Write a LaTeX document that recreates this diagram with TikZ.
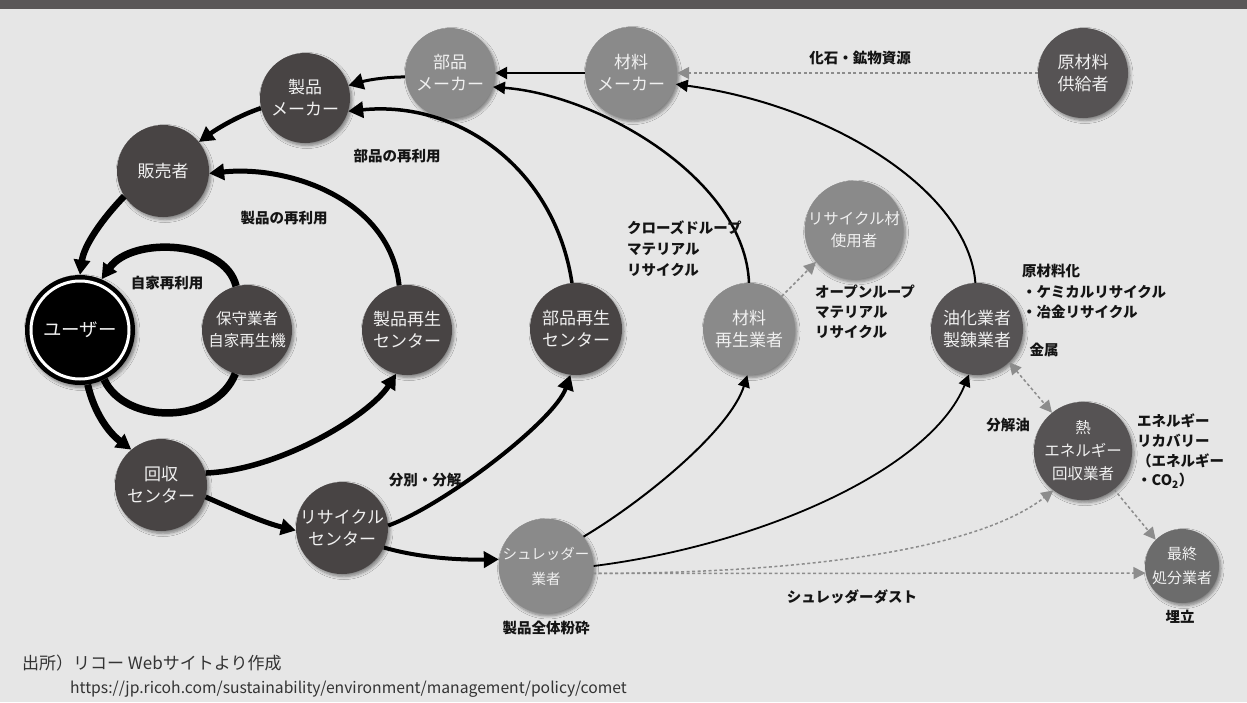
\documentclass[tikz,border=0pt]{standalone}
\usepackage{fontspec}
\setmainfont{Noto Sans CJK JP}
\usetikzlibrary{arrows.meta,shadows.blur}
\definecolor{bg}{RGB}{230,230,230}
\definecolor{bar}{RGB}{90,87,88}
\definecolor{dk}{RGB}{72,68,68}
\definecolor{dkb}{RGB}{86,83,84}
\definecolor{md}{RGB}{108,108,108}
\definecolor{lt}{RGB}{138,138,138}
\definecolor{dotc}{RGB}{140,140,140}
\definecolor{lbl}{RGB}{20,20,20}
\begin{document}
\begin{tikzpicture}[x=1pt,y=-1pt,
  nd/.style={circle, inner sep=0pt, minimum size=90pt, text=white!94!black, align=center,
    font=\fontsize{17}{22}\selectfont,
    blur shadow={shadow xshift=2pt, shadow yshift=-2.5pt, shadow blur radius=3pt, shadow blur steps=6, shadow opacity=45}},
  lab/.style={font=\bfseries\fontsize{14.5}{20}\selectfont, text=lbl, inner sep=0pt},
  arr/.style={-{Triangle[length=15pt,width=16pt]}, line width=#1, draw=black},
  tarr/.style={-{Triangle[length=12pt,width=12pt]}, line width=#1, draw=black},
  dotl/.style={draw=dotc, line width=1.5pt, dash pattern=on 3pt off 2.5pt},
  darr/.style={dotl, -{Triangle[length=12pt,width=12pt]}},
  ddarr/.style={dotl, {Triangle[length=12pt,width=12pt]}-{Triangle[length=12pt,width=12pt]}},
]
\fill[bg] (0,0) rectangle (1247,702);
\fill[bar] (0,0) rectangle (1247,9);
\useasboundingbox (0,0) rectangle (1247,702);

% nodes
\node[nd, fill=lt] (pm) at (450,73) {部品\\メーカー};
\node[nd, fill=lt, minimum size=92pt] (mm) at (631,73) {材料\\メーカー};
\node[nd, fill=dkb] (rs) at (1083,73) {原材料\\供給者};
\node[nd, fill=dk] (sm) at (305,98) {製品\\メーカー};
\node[nd, fill=dk, minimum size=92pt] (hb) at (163,171) {販売者};
\node[nd, fill=black, minimum size=110pt, font=\fontsize{18.5}{22}\selectfont] (user) at (80,330) {ユーザー};
\draw[white, line width=3pt] (user.center) circle (49);
\node[nd, fill=dk, font=\fontsize{15.5}{22}\selectfont] (hs) at (247,330) {保守業者\\自家再生機};
\node[nd, fill=dk] (sr) at (407,330) {製品再生\\センター};
\node[nd, fill=dk, minimum size=92pt] (pr) at (576,329) {部品再生\\センター};
\node[nd, fill=lt, minimum size=92pt] (mr) at (749,329) {材料\\再生業者};
\node[nd, fill=lt, font=\fontsize{15.5}{22}\selectfont] (ru) at (854,230) {リサイクル材\\使用者};
\node[nd, fill=dkb, minimum size=92pt] (yk) at (977,329) {油化業者\\製錬業者};
\node[nd, fill=dkb, font=\fontsize{15.5}{23}\selectfont] (ne) at (1083,451) {熱\\エネルギー\\回収業者};
\node[nd, fill=md, minimum size=74pt, font=\fontsize{15}{24}\selectfont] (sf) at (1182,566) {最終\\処分業者};
\node[nd, fill=dk, minimum size=92pt] (kc) at (161,485) {回収\\センター};
\node[nd, fill=dk, minimum size=92pt] (rc) at (342,528) {リサイクル\\センター};
\node[nd, fill=lt, font=\fontsize{14.5}{25}\selectfont] (sh) at (546,566) {シュレッダー\\業者};

% solid connectors
\draw[tarr=2.5pt] (mm.180) -- (pm.0);
\draw[arr=3pt] (pm.185) .. controls (385,77) and (368,80) .. (sm.16);
\draw[arr=4.5pt] (sm.193) .. controls (240,115) and (218,128) .. (hb.39);
\draw[arr=6.5pt] (hb.213) .. controls (103,218) and (84,245) .. (user.90);
\draw[arr=7.5pt] (hs.104) .. controls (225,240) and (132,236) .. (user.67);
\draw[line width=7.5pt] (user.-64) .. controls (125,425) and (215,425) .. (hs.255);
\draw[arr=7pt] (user.-82) .. controls (94,412) and (108,432) .. (kc.130);
\draw[arr=5.5pt] (kc.15) .. controls (280,470) and (370,415) .. (sr.256);
\draw[arr=5pt] (sr.100) .. controls (390,200) and (290,165) .. (hb.357);
\draw[arr=5pt] (kc.-15) .. controls (240,512) and (265,523) .. (rc.183);
\draw[arr=4pt] (rc.-25) .. controls (420,558) and (460,560) .. (sh.172);
\draw[arr=4pt] (rc.3) .. controls (445,505) and (555,420) .. (pr.263);
\draw[arr=3.5pt] (pr.95) .. controls (555,170) and (460,100) .. (sm.-17);
\draw[tarr=2.5pt] (mr.90) .. controls (745,180) and (600,95) .. (pm.-18);
\draw[tarr=2pt] (yk.92) .. controls (968,190) and (830,105) .. (mm.-14);
\draw[tarr=2pt] (sh.38) .. controls (645,500) and (730,430) .. (mr.268);
\draw[tarr=1.8pt] (sh.0) .. controls (760,545) and (930,470) .. (yk.260);

% dotted connectors
\draw[darr] (rs.180) -- (mm.0);
\draw[darr] (mr.45) -- (ru.220);
\draw[ddarr] (yk.-46) -- (ne.129);
\draw[darr] (ne.-51) -- (sf.135);
\draw[darr] (sh.-9) -- (sf.191);
\draw[darr] (sh.-9) .. controls (850,573) and (990,540) .. (ne.233);

% labels
\node[lab] (l1) at (860,58) {化石・鉱物資源};
\node[lab] (l2) at (397,156) {部品の再利用};
\node[lab] (l3) at (284,218) {製品の再利用};
\node[lab] (l4) at (167,283) {自家再利用};
\node[lab, anchor=west] (c1) at (627,228) {クローズドループ};
\node[lab, anchor=west] (c2) at (627,249) {マテリアル};
\node[lab, anchor=west] (c3) at (627,270) {リサイクル};
\node[lab, anchor=west] (o1) at (815,292) {オープンループ};
\node[lab, anchor=west] (o2) at (815,312) {マテリアル};
\node[lab, anchor=west] (o3) at (815,332) {リサイクル};
\node[lab, anchor=west] (g1) at (1022,271) {原材料化};
\node[lab, anchor=west] (g2) at (1022,292) {・ケミカルリサイクル};
\node[lab, anchor=west] (g3) at (1022,312) {・冶金リサイクル};
\node[lab] (l5) at (1044,350) {金属};
\node[lab] (l6) at (1008,425) {分解油};
\node[lab, anchor=west] (e1) at (1137,421) {エネルギー};
\node[lab, anchor=west] (e2) at (1137,441) {リカバリー};
\node[lab, anchor=west] (e3) at (1137,461) {（エネルギー};
\node[lab, anchor=west] (e4) at (1137,481) {・CO\textsubscript{2}）};
\node[lab] (l7) at (425,480) {分別・分解};
\node[lab] (l8) at (546,628) {製品全体粉砕};
\node[lab] (l9) at (852,597) {シュレッダーダスト};
\node[lab] (l10) at (1180,617) {埋立};

% footer
\node[anchor=west, inner sep=0pt, text=black!80, font=\fontsize{17}{20}\selectfont] (src) at (22,663) {出所）リコー Webサイトより作成};
\node[anchor=west, inner sep=0pt, text=black!80, font=\fontsize{15.7}{20}\selectfont] (url) at (70,689) {https://jp.ricoh.com/sustainability/environment/management/policy/comet};
\end{tikzpicture}
\end{document}
